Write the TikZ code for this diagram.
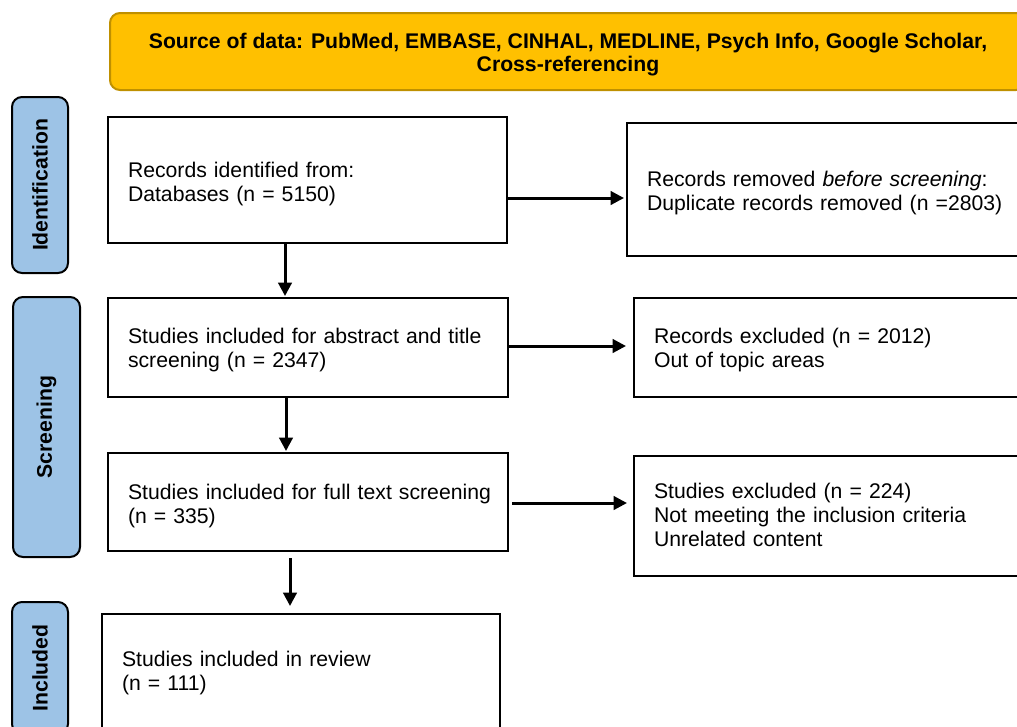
\documentclass[tikz,border=0pt]{standalone}
\usepackage{fontspec}
\setmainfont{Liberation Sans}
\usetikzlibrary{arrows.meta}
\definecolor{bannerfill}{HTML}{FFC000}
\definecolor{banneredge}{HTML}{BF9000}
\definecolor{phaseblue}{HTML}{9DC3E6}
% text block lowered by #1 without changing its box size
\newcommand{\lowleft}[2]{\raisebox{-#1}[\height][\depth]{\begin{tabular}{@{}l@{}}#2\end{tabular}}}
\newcommand{\lowcenter}[2]{\raisebox{-#1}[\height][\depth]{\begin{tabular}{@{}c@{}}#2\end{tabular}}}
\begin{document}
\begin{tikzpicture}[x=0.75pt,y=-0.75pt,
  font=\fontsize{15.9pt}{18pt}\selectfont,
  flowbox/.style={draw=black, line width=1.5pt, fill=white, inner xsep=15pt, inner ysep=0pt, align=left},
  phase/.style={draw=black, line width=1.5pt, fill=phaseblue, rounded corners=7.5pt, rotate=90, inner sep=0pt, font=\fontsize{15.9pt}{18pt}\selectfont\bfseries},
  banner/.style={draw=banneredge, line width=1.5pt, fill=bannerfill, rounded corners=7.5pt, inner sep=0pt, font=\fontsize{15.9pt}{17.25pt}\selectfont\bfseries},
  arr/.style={line width=2.25pt, -{Triangle[length=10pt,width=10pt]}}
]
\useasboundingbox (0,0) rectangle (1017,726);
\clip (0,0) rectangle (1017,726);

% banner
\node[banner, minimum width=687pt, minimum height=57.75pt] (src) at (568,51.5)
  {\lowcenter{3pt}{Source of data: PubMed, EMBASE, CINHAL, MEDLINE, Psych Info, Google Scholar,\\ Cross-referencing}};

% phase labels
\node[phase, minimum width=132pt, minimum height=42pt] (pid) at (40,185) {Identification};
\node[phase, minimum width=195pt, minimum height=50.25pt] (pscr) at (46.5,427) {Screening};
\node[phase, minimum width=99pt, minimum height=42pt] (pinc) at (40,668) {Included};

% left column
\node[flowbox, minimum width=299.25pt, minimum height=94.5pt, text width=269.25pt] (b1) at (307.5,180)
  {\lowleft{3.4pt}{Records identified from:\\ Databases (n = 5150)}};
\node[flowbox, minimum width=300pt, minimum height=74.25pt, text width=270pt] (b2) at (308,347.5)
  {\lowleft{2.6pt}{Studies included for abstract and title\\ screening (n = 2347)}};
\node[flowbox, minimum width=300pt, minimum height=73.5pt, text width=270pt] (b3) at (308,502)
  {\lowleft{3.4pt}{Studies included for full text screening\\ (n = 335)}};
\node[flowbox, minimum width=298.5pt, minimum height=86.25pt, text width=268.5pt] (b4) at (301,671.5)
  {\lowleft{1.9pt}{Studies included in review\\ (n = 111)}};

% right column
\node[flowbox, minimum width=309.75pt, minimum height=99.75pt, text width=279.75pt] (r1) at (833.5,189.5)
  {\lowleft{3pt}{Records removed \textit{before screening}:\\ Duplicate records removed (n =2803)}};
\node[flowbox, minimum width=304.5pt, minimum height=74.25pt, text width=274.5pt] (r2) at (837,347.5)
  {\lowleft{2.25pt}{Records excluded (n = 2012)\\ Out of topic areas}};
\node[flowbox, minimum width=304.5pt, minimum height=90pt, text width=274.5pt] (r3) at (837,516)
  {\lowleft{1.5pt}{Studies excluded (n = 224)\\ Not meeting the inclusion criteria\\ Unrelated content}};

% vertical arrows
\coordinate (v1) at ([xshift=-16.875pt]b1.south);
\draw[arr, shorten >=0.75pt] (v1) -- (v1 |- b2.north);
\coordinate (v2) at ([xshift=-16.5pt]b2.south);
\draw[arr, shorten >=0.75pt] (v2) -- (v2 |- b3.north);
\coordinate (v3) at ([xshift=-13.5pt]b3.south);
\draw[arr, shorten <=4.5pt, shorten >=5.25pt] (v3) -- (v3 |- b4.north);

% horizontal arrows
\coordinate (h1) at ([yshift=-13.5pt]b1.east);
\draw[arr, shorten >=1.5pt] (h1) -- (h1 -| r1.west);
\coordinate (h2) at ([yshift=1.125pt]b2.east);
\draw[arr, shorten >=5.25pt] (h2) -- (h2 -| r2.west);
\coordinate (h3) at ([yshift=-0.75pt]b3.east);
\draw[arr, shorten <=2.25pt, shorten >=4.5pt] (h3) -- (h3 -| r3.west);
\end{tikzpicture}
\end{document}
